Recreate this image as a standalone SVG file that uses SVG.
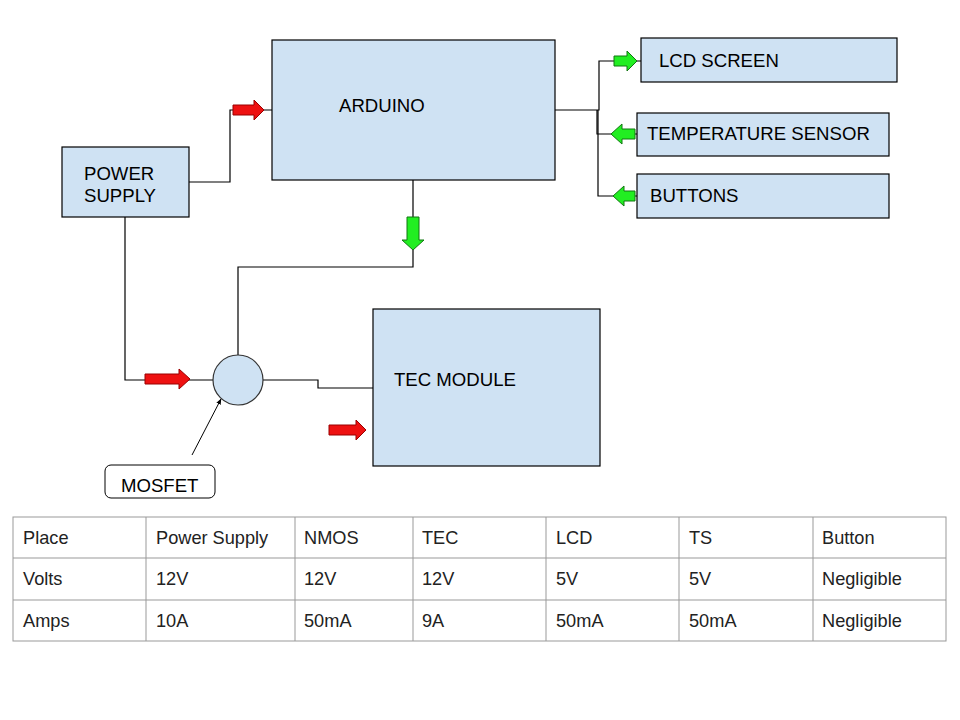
<svg xmlns="http://www.w3.org/2000/svg" width="960" height="720" viewBox="0 0 960 720">
<defs>
<style>
.box{fill:#cfe2f3;stroke:#000;stroke-width:1.2}
.lbl{font-family:"Liberation Sans",Arial,sans-serif;font-size:18.6px;fill:#000}
.wire{fill:none;stroke:#000;stroke-width:1.2}
.red{fill:#ee1111;stroke:#990000;stroke-width:1}
.grn{fill:#22ee22;stroke:#117711;stroke-width:1}
.grid{stroke:#999;stroke-width:1;fill:none}
.cell{font-family:"Liberation Sans",Arial,sans-serif;font-size:18.2px;fill:#222}
</style>
<marker id="ah" viewBox="0 0 10 10" refX="9" refY="5" markerWidth="6" markerHeight="6" orient="auto">
<path d="M0,1 L10,5 L0,9 Z" fill="#000"/>
</marker>
</defs>
<rect width="960" height="720" fill="#fff"/>

<g id="connectors">
<polyline class="wire" points="189,182 230,182 230,110 272,110"/>
<polyline class="wire" points="125,217 125,380 213,380"/>
<polyline class="wire" points="263,380 318,380 318,388 373,388"/>
<polyline class="wire" points="413,180 413,267 238,267 238,355"/>
<polyline class="wire" points="555,110 599,110 599,61 641,61"/>
<polyline class="wire" points="597,110 597,134 637,134"/>
<polyline class="wire" points="598,110 598,196 637,196"/>
<line x1="192" y1="455" x2="221" y2="399" stroke="#000" stroke-width="1" marker-end="url(#ah)"/>
<path class="red" d="M233,105 L254,105 L254,100 L264,110 L254,120 L254,115 L233,115 Z"/>
<path class="red" d="M145,374 L179,374 L179,369 L190,379 L179,389 L179,384 L145,384 Z"/>
<path class="red" d="M329,425 L356,425 L356,420 L366,430 L356,440 L356,435 L329,435 Z"/>
<path class="grn" d="M407,217 L419,217 L419,240 L424,240 L413,250 L402,240 L407,240 Z"/>
<path class="grn" d="M614,56 L627,56 L627,51 L637,61 L627,71 L627,66 L614,66 Z"/>
<path class="grn" d="M635,129 L622,129 L622,124 L611,134 L622,144 L622,139 L635,139 Z"/>
<path class="grn" d="M635,191 L624,191 L624,186 L613,196 L624,206 L624,201 L635,201 Z"/>
</g>

<g id="arduino">
<rect class="box" x="272" y="40" width="283" height="140"/>
<text class="lbl" x="339" y="112">ARDUINO</text>
</g>
<g id="power-supply">
<rect class="box" x="62" y="147" width="127" height="70"/>
<text class="lbl" x="84" y="180">POWER</text>
<text class="lbl" x="84" y="202">SUPPLY</text>
</g>
<g id="lcd-screen">
<rect class="box" x="641" y="38" width="256" height="44"/>
<text class="lbl" x="659" y="67">LCD SCREEN</text>
</g>
<g id="temperature-sensor">
<rect class="box" x="637" y="113" width="252" height="43"/>
<text class="lbl" x="647" y="140">TEMPERATURE SENSOR</text>
</g>
<g id="buttons">
<rect class="box" x="637" y="174" width="252" height="44"/>
<text class="lbl" x="650" y="202">BUTTONS</text>
</g>
<g id="tec-module">
<rect class="box" x="373" y="309" width="227" height="157"/>
<text class="lbl" x="394" y="386">TEC MODULE</text>
</g>
<g id="mosfet-node">
<circle cx="238" cy="380" r="25" fill="#cfe2f3" stroke="#333" stroke-width="1.2"/>
</g>
<g id="mosfet-label">
<rect x="105" y="465" width="110" height="33" rx="6" fill="#fff" stroke="#000" stroke-width="1"/>
<text class="lbl" x="121" y="492">MOSFET</text>
</g>

<g id="table">
<rect class="grid" x="13" y="517" width="933" height="124"/>
<line class="grid" x1="13" y1="558" x2="946" y2="558"/>
<line class="grid" x1="13" y1="600" x2="946" y2="600"/>
<line class="grid" x1="146" y1="517" x2="146" y2="641"/>
<line class="grid" x1="295" y1="517" x2="295" y2="641"/>
<line class="grid" x1="413" y1="517" x2="413" y2="641"/>
<line class="grid" x1="546" y1="517" x2="546" y2="641"/>
<line class="grid" x1="679" y1="517" x2="679" y2="641"/>
<line class="grid" x1="813" y1="517" x2="813" y2="641"/>
<text class="cell" x="23" y="544">Place</text>
<text class="cell" x="156" y="544">Power Supply</text>
<text class="cell" x="304" y="544">NMOS</text>
<text class="cell" x="422" y="544">TEC</text>
<text class="cell" x="556" y="544">LCD</text>
<text class="cell" x="689" y="544">TS</text>
<text class="cell" x="822" y="544">Button</text>
<text class="cell" x="23" y="585">Volts</text>
<text class="cell" x="156" y="585">12V</text>
<text class="cell" x="304" y="585">12V</text>
<text class="cell" x="422" y="585">12V</text>
<text class="cell" x="556" y="585">5V</text>
<text class="cell" x="689" y="585">5V</text>
<text class="cell" x="822" y="585">Negligible</text>
<text class="cell" x="23" y="627">Amps</text>
<text class="cell" x="156" y="627">10A</text>
<text class="cell" x="304" y="627">50mA</text>
<text class="cell" x="422" y="627">9A</text>
<text class="cell" x="556" y="627">50mA</text>
<text class="cell" x="689" y="627">50mA</text>
<text class="cell" x="822" y="627">Negligible</text>
</g>
</svg>
